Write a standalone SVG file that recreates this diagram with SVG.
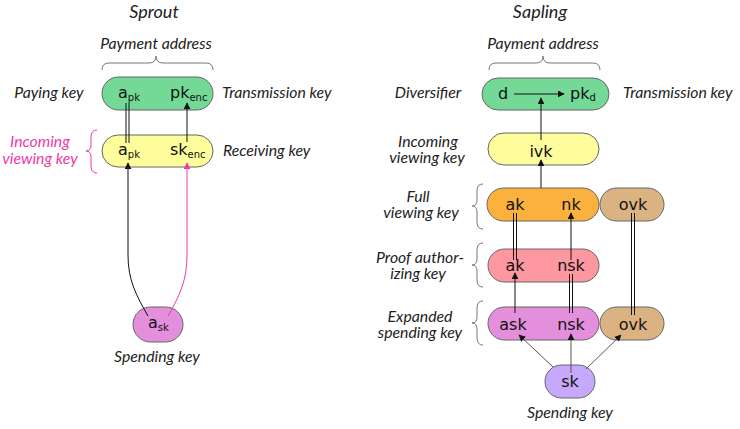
<svg xmlns="http://www.w3.org/2000/svg" width="740" height="429" viewBox="0 0 740 429">
<style>
.lab{font-family:Lato,"Open Sans",sans-serif;font-style:italic;font-size:15.8px;fill:#222}
.ttl{font-family:Lato,"Open Sans",sans-serif;font-style:italic;font-size:18px;fill:#222}
.mag{fill:#ee3aa8}
.key{font-family:"DejaVu Sans",sans-serif;font-size:16px;fill:#111}
.sub{font-size:10px}
.box{stroke:#666;stroke-width:1}
.ln{stroke:#111;stroke-width:1;fill:none}
.gray{stroke:#555}
.brace{stroke:#777;stroke-width:1;fill:none}
</style>
<defs>
<marker id="ah" viewBox="0 0 10 10" refX="9" refY="5" markerWidth="7" markerHeight="7" markerUnits="userSpaceOnUse" orient="auto"><path d="M0,0 L10,5 L0,10 z" fill="#111"/></marker>
<marker id="ahm" viewBox="0 0 10 10" refX="9" refY="5" markerWidth="7" markerHeight="7" markerUnits="userSpaceOnUse" orient="auto"><path d="M0,0 L10,5 L0,10 z" fill="#ee3aa8"/></marker>
</defs>

<!-- Titles and labels -->
<g id="labels">
<text class="ttl" x="154" y="18" text-anchor="middle">Sprout</text>
<text class="ttl" x="540" y="18" text-anchor="middle">Sapling</text>
<text class="lab" x="156" y="49" text-anchor="middle">Payment address</text>
<text class="lab" x="543" y="49" text-anchor="middle">Payment address</text>
<text class="lab" x="49" y="98" text-anchor="middle">Paying key</text>
<text class="lab" x="222" y="98">Transmission key</text>
<text class="lab" x="223" y="156">Receiving key</text>
<text class="lab mag" x="40" y="147" text-anchor="middle">Incoming</text>
<text class="lab mag" x="40" y="164" text-anchor="middle">viewing key</text>
<text class="lab" x="157" y="362" text-anchor="middle">Spending key</text>
<text class="lab" x="428" y="98" text-anchor="middle">Diversifier</text>
<text class="lab" x="623" y="98">Transmission key</text>
<text class="lab" x="428" y="147" text-anchor="middle">Incoming</text>
<text class="lab" x="427" y="163" text-anchor="middle">viewing key</text>
<text class="lab" x="418" y="202" text-anchor="middle">Full</text>
<text class="lab" x="421" y="218" text-anchor="middle">viewing key</text>
<text class="lab" x="420" y="263" text-anchor="middle">Proof author-</text>
<text class="lab" x="418" y="279" text-anchor="middle">izing key</text>
<text class="lab" x="420" y="322" text-anchor="middle">Expanded</text>
<text class="lab" x="420" y="338" text-anchor="middle">spending key</text>
<text class="lab" x="570" y="418" text-anchor="middle">Spending key</text>
</g>

<!-- Braces -->
<g id="braces">
<path class="brace" d="M102,70 Q102,63 109,63 L149,63 Q156,63 156,56 Q156,63 163,63 L206,63 Q213,63 213,70"/>
<path class="brace" d="M489,70 Q489,63 496,63 L536,63 Q543,63 543,56 Q543,63 550,63 L593,63 Q600,63 600,70"/>
<path class="brace" style="stroke:#ee3aa8" d="M97,130 Q91,130 91,137 L91,145 Q91,151 86,151 Q91,151 91,157 L91,166 Q91,173 97,173"/>
<path class="brace" d="M483,184 Q477,184 477,191 L477,200 Q477,206 472,206 Q477,206 477,212 L477,222 Q477,229 483,229"/>
<path class="brace" d="M483,243 Q477,243 477,250 L477,259 Q477,265 472,265 Q477,265 477,271 L477,280 Q477,287 483,287"/>
<path class="brace" d="M483,301 Q477,301 477,308 L477,317 Q477,323 472,323 Q477,323 477,329 L477,338 Q477,345 483,345"/>
</g>

<!-- Sprout nodes -->
<g id="sprout-payment">
<rect class="box" x="102" y="77" width="111" height="33" rx="16.5" fill="#74d897"/>
<text class="key" x="118" y="98">a<tspan class="sub" dy="3">pk</tspan></text>
<text class="key" x="170" y="98">pk<tspan class="sub" dy="3">enc</tspan></text>
</g>
<g id="sprout-incoming">
<rect class="box" x="102" y="135" width="111" height="32" rx="16" fill="#fdfd9b"/>
<text class="key" x="118" y="155">a<tspan class="sub" dy="3">pk</tspan></text>
<text class="key" x="170" y="155">sk<tspan class="sub" dy="3">enc</tspan></text>
</g>
<g id="sprout-spending">
<rect class="box" x="133" y="307" width="50" height="35" rx="17.5" fill="#e48fdc"/>
<text class="key" x="148" y="328">a<tspan class="sub" dy="3">sk</tspan></text>
</g>

<!-- Sapling nodes -->
<g id="sapling-payment">
<rect class="box" x="482" y="78" width="127" height="32" rx="16" fill="#74d897"/>
<text class="key" x="498" y="99">d</text>
<text class="key" x="570" y="99">pk<tspan class="sub" dy="2">d</tspan></text>
</g>
<g id="sapling-ivk">
<rect class="box" x="488" y="133" width="111" height="32" rx="16" fill="#fdfd9b"/>
<text class="key" x="541" y="157" text-anchor="middle">ivk</text>
</g>
<g id="sapling-fvk">
<rect class="box" x="487" y="188" width="112" height="33" rx="16.5" fill="#fbb13e"/>
<text class="key" x="515" y="210" text-anchor="middle">ak</text>
<text class="key" x="571" y="210" text-anchor="middle">nk</text>
</g>
<g id="sapling-ovk1">
<rect class="box" x="600" y="188" width="64" height="33" rx="16.5" fill="#dbb282"/>
<text class="key" x="633" y="210" text-anchor="middle">ovk</text>
</g>
<g id="sapling-pak">
<rect class="box" x="488" y="249" width="111" height="33" rx="16.5" fill="#fd98a0"/>
<text class="key" x="515" y="271" text-anchor="middle">ak</text>
<text class="key" x="571" y="271" text-anchor="middle">nsk</text>
</g>
<g id="sapling-esk">
<rect class="box" x="488" y="307" width="111" height="33" rx="16.5" fill="#e48fdc"/>
<text class="key" x="513" y="330" text-anchor="middle">ask</text>
<text class="key" x="571" y="330" text-anchor="middle">nsk</text>
</g>
<g id="sapling-ovk2">
<rect class="box" x="600" y="307" width="64" height="33" rx="16.5" fill="#dbb282"/>
<text class="key" x="633" y="330" text-anchor="middle">ovk</text>
</g>
<g id="sapling-sk">
<rect class="box" x="545" y="365" width="50" height="33" rx="16.5" fill="#c6a9fd"/>
<text class="key" x="570" y="387" text-anchor="middle">sk</text>
</g>

<!-- Connectors -->
<g id="connectors">
<!-- Sprout -->
<line class="ln" x1="126" y1="103" x2="126" y2="143"/>
<line class="ln" x1="129" y1="103" x2="129" y2="143"/>
<line class="ln" x1="187" y1="142" x2="187" y2="103" marker-end="url(#ah)"/>
<path class="ln" d="M148,316 C136,295 128,280 128,255 L128,163" marker-end="url(#ah)"/>
<path class="ln" style="stroke:#ee3aa8" d="M168,316 C180,295 187,280 187,255 L187,163" marker-end="url(#ahm)"/>
<!-- Sapling -->
<line class="ln" x1="514" y1="94" x2="564" y2="94" marker-end="url(#ah)"/>
<line class="ln" x1="541" y1="140" x2="541" y2="98" marker-end="url(#ah)"/>
<line class="ln" x1="541" y1="188" x2="541" y2="160" marker-end="url(#ah)"/>
<line class="ln" x1="513.5" y1="213" x2="513.5" y2="260"/>
<line class="ln" x1="516.5" y1="213" x2="516.5" y2="260"/>
<line class="ln" x1="571" y1="260" x2="571" y2="213" marker-end="url(#ah)"/>
<line class="ln" x1="631.5" y1="213" x2="631.5" y2="315"/>
<line class="ln" x1="634.5" y1="213" x2="634.5" y2="315"/>
<line class="ln" x1="515" y1="313" x2="515" y2="273" marker-end="url(#ah)"/>
<line class="ln" x1="569.5" y1="274" x2="569.5" y2="313"/>
<line class="ln" x1="572.5" y1="274" x2="572.5" y2="313"/>
<line class="ln gray" x1="553" y1="367" x2="519" y2="335" marker-end="url(#ah)"/>
<line class="ln gray" x1="571" y1="373" x2="571" y2="334" marker-end="url(#ah)"/>
<line class="ln gray" x1="586" y1="369" x2="621" y2="335" marker-end="url(#ah)"/>
</g>
</svg>
